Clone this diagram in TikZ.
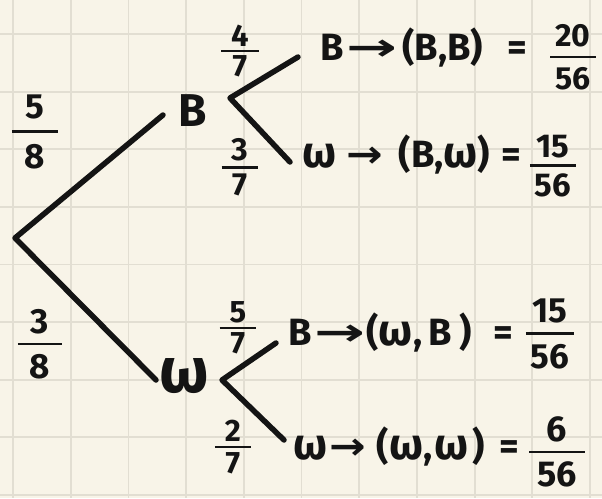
\documentclass[tikz,border=0pt]{standalone}
\usepackage{fontspec}
\setmainfont{Fira Sans}
\newfontfamily\dvs{DejaVu Sans}
\definecolor{paper}{HTML}{F8F4E8}
\definecolor{gridc}{HTML}{E2DED2}
\definecolor{ink}{HTML}{141414}
% fraction: gap, side padding, numerator, denominator
\newcommand{\fr}[4]{\vbox{\offinterlineskip\halign{\hfil\kern#2##\kern#2\hfil\cr #3\cr\noalign{\kern#1\hrule height 2.8pt\kern#1}#4\cr}}}
\newcommand{\arr}[1]{\scalebox{#1}[1]{\dvs\bfseries →}}
\newcommand{\om}[1]{{\fontsize{#1}{#1}\selectfont ω}}
\tikzset{
  branch/.style={draw=ink, line width=5.5pt, line cap=round, line join=round},
  big/.style={inner sep=0pt, text=ink, font=\fontsize{46}{46}\selectfont\bfseries},
  row/.style={inner sep=0pt, anchor=west, text=ink, font=\fontsize{38}{38}\selectfont\bfseries},
  fracn/.style={inner sep=0pt, text=ink, font=\fontsize{#1}{#1}\selectfont\bfseries},
  gridline/.style={draw=gridc, line width=1.8pt}
}
\begin{document}
\begin{tikzpicture}[x=1pt,y=-1pt]
\fill[paper] (0,0) rectangle (602,498);
\useasboundingbox (0,0) rectangle (602,498);
\foreach \i in {0,...,10} \draw[gridline] ({13+57.7*\i},0) -- ({13+57.7*\i},498);
\foreach \j in {0,...,8} \draw[gridline] (0,{34+57.6*\j}) -- (602,{34+57.6*\j});

% tree
\coordinate (root) at (15,238);
\coordinate (toB) at (163,115);
\coordinate (toW) at (156,380);
\node[big] (B) at (193,111) {B};
\node[big] (W) at (184,376) {\om{64}};
\coordinate (Bv) at (230,98);
\coordinate (BB) at (298,57);
\coordinate (BW) at (290,162);
\coordinate (Wv) at (222,380);
\coordinate (WB) at (276,343);
\coordinate (WW) at (284,440);
\draw[branch] (toB) -- (root) -- (toW);
\draw[branch] (BB) -- (Bv) -- (BW);
\draw[branch] (WB) -- (Wv) -- (WW);

% branch probabilities
\node[fracn=35] (f58) at (35,132) {\fr{11.5pt}{13pt}{5}{8}};
\node[fracn=35] (f38) at (40,344) {\fr{8.5pt}{12pt}{3}{8}};
\node[fracn=31] (f47) at (240,51) {\fr{3.5pt}{10pt}{4}{7}};
\node[fracn=32] (f37) at (240,167) {\fr{5.2pt}{10pt}{3}{7}};
\node[fracn=31] (f57) at (238,328) {\fr{3.5pt}{10pt}{5}{7}};
\node[fracn=31] (f27) at (233,447) {\fr{3.8pt}{10pt}{2}{7}};

% outcomes
\node[row] (r1) at (320,48) {B\hspace{3pt}\arr{1.6}\hspace{5pt}(B,B)\hspace{24pt}=};
\node[row] (r2) at (302,155) {\om{44}\hspace{10pt}\arr{1.15}\hspace{16pt}(B,\om{44})\hspace{11pt}=};
\node[row] (r3) at (288,333) {B\hspace{3pt}\arr{1.6}\hspace{1pt}(\om{44},\hspace{6pt}B\hspace{8pt})\hspace{22pt}=};
\node[row] (r4) at (293,447) {\om{44}\hspace{2pt}\arr{1.15}\hspace{11pt}(\om{44},\hspace{2pt}\om{44}\hspace{4pt})\hspace{15pt}=};
\node[fracn=32] (p1) at (573,57) {\fr{8.6pt}{5pt}{20}{56}};
\node[fracn=33] (p2) at (553,166) {\fr{6.4pt}{5pt}{15}{56}};
\node[fracn=35] (p3) at (550,334) {\fr{9.2pt}{5pt}{15}{56}};
\node[fracn=36] (p4) at (557,452) {\fr{8.7pt}{8pt}{6}{56}};
\end{tikzpicture}
\end{document}
